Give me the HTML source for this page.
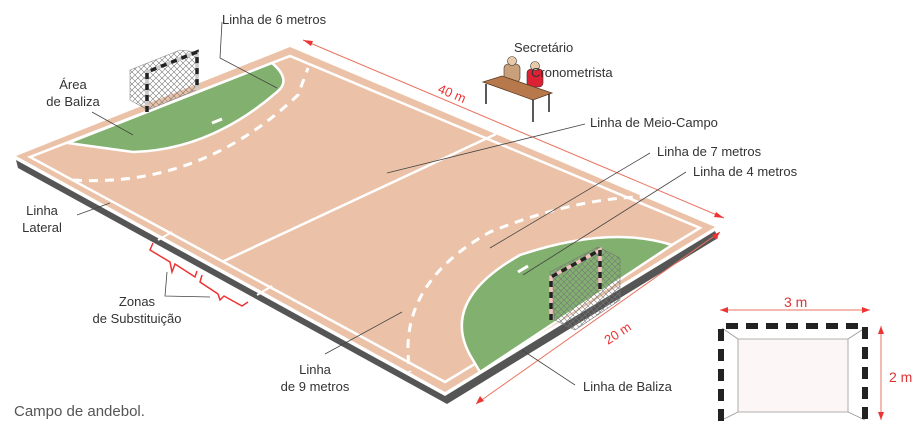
<!DOCTYPE html>
<html><head><meta charset="utf-8"><style>
body{margin:0;background:#fff;width:918px;height:426px;overflow:hidden}
svg{display:block}
text{font-family:"Liberation Sans",sans-serif;font-size:13px;fill:#333}
</style></head><body>
<svg width="918" height="426" viewBox="0 0 918 426" xmlns="http://www.w3.org/2000/svg">
<defs>
<pattern id="net" width="6" height="6" patternUnits="userSpaceOnUse"><path d="M0 0L6 6M6 0L0 6" stroke="#777" stroke-width="0.6"/></pattern>
</defs>
<!-- shadow -->
<polygon points="16,160 445,396 715,231 718,238 447,404 18,168" fill="#555"/>
<!-- court -->
<polygon points="16,156 290,47 715,227 445,392" fill="#ebc2a8"/>
<polygon points="30,157 290,56 700,228 445,382" fill="none" stroke="#fff" stroke-width="2.5"/>
<!-- green areas -->
<path d="M68,143 L272,63 Q292,80 277,92 Q210,150 133,152 Z" fill="#82b06e" stroke="#fff" stroke-width="2.5"/>
<path d="M480,372 L672,245 Q610,225 520,255 Q440,300 470,355 Z" fill="#82b06e" stroke="#fff" stroke-width="2.5"/>
<line x1="212" y1="123" x2="222" y2="119" stroke="#fff" stroke-width="3"/>
<line x1="518" y1="272" x2="528" y2="266" stroke="#fff" stroke-width="3"/>
<!-- center line -->
<line x1="496" y1="134" x2="222" y2="262" stroke="#fff" stroke-width="2.5"/>
<!-- dashed 9m -->
<path d="M73,180 Q200,188 298,95 L308,68" fill="none" stroke="#fff" stroke-width="3" stroke-dasharray="9,7"/>
<path d="M712,205 Q620,180 490,232 Q395,285 410,372" fill="none" stroke="#fff" stroke-width="3" stroke-dasharray="9,7"/>
<!-- substitution marks -->
<line x1="158" y1="240" x2="172" y2="232" stroke="#fff" stroke-width="2"/>
<line x1="257" y1="295" x2="272" y2="286" stroke="#fff" stroke-width="2"/>
<!-- red braces -->
<path d="M153,243 L150,250 L170,262 L172,272 L175,264 L195,277 L197,271" fill="none" stroke="#e33" stroke-width="1.5"/>
<path d="M202,275 L200,282 L218,294 L220,300 L224,296 L242,306 L248,302" fill="none" stroke="#e33" stroke-width="1.5"/>
<!-- top goal -->
<g>
<polygon points="130,70 180,50 196,52 196,90 148,110 130,100" fill="url(#net)" stroke="#888" stroke-width="0.6"/>
<polyline points="147,112 147,72 197,52 197,90" fill="none" stroke="#ccc" stroke-width="3.5"/>
<polyline points="147,112 147,72 197,52 197,90" fill="none" stroke="#222" stroke-width="3.5" stroke-dasharray="6,5"/>
</g>
<!-- bottom goal -->
<g>
<polygon points="550,272 598,247 620,258 620,300 575,330 555,320" fill="url(#net)" stroke="#777" stroke-width="0.6"/>
<polyline points="551,320 551,277 600,250 600,290" fill="none" stroke="#f4c0c0" stroke-width="3.5"/>
<polyline points="551,320 551,277 600,250 600,290" fill="none" stroke="#222" stroke-width="3.5" stroke-dasharray="6,5"/>
</g>
<!-- table -->
<g>
<rect x="504" y="64" width="16" height="18" rx="4" fill="#c9a07a" stroke="#333" stroke-width="0.6"/>
<circle cx="512" cy="61" r="4.5" fill="#e8c9a8" stroke="#333" stroke-width="0.6"/>
<rect x="527" y="69" width="16" height="18" rx="4" fill="#d23" stroke="#333" stroke-width="0.6"/>
<circle cx="535" cy="66" r="4.5" fill="#e8c9a8" stroke="#333" stroke-width="0.6"/>
<polygon points="483,82 502,76 552,93 533,100" fill="#b7794c" stroke="#5a3a22" stroke-width="0.8"/>
<line x1="486" y1="84" x2="486" y2="104" stroke="#222" stroke-width="1.5"/>
<line x1="533" y1="100" x2="533" y2="122" stroke="#222" stroke-width="1.5"/>
<line x1="549" y1="94" x2="549" y2="112" stroke="#222" stroke-width="1.5"/>
</g>
<!-- red dimension arrows -->
<line x1="303" y1="40" x2="724" y2="218" stroke="#e9735f" stroke-width="1"/>
<polygon points="303,40 313,41 311,46" fill="#e33"/>
<polygon points="724,218 714,217 716,212" fill="#e33"/>
<line x1="720" y1="232" x2="476" y2="404" stroke="#e9735f" stroke-width="1"/>
<polygon points="720,232 716,240 712,235" fill="#e33"/>
<polygon points="476,404 480,396 484,401" fill="#e33"/>
<text x="437" y="92" transform="rotate(23 437 92)" style="fill:#e33">40 m</text>
<text x="608" y="345" transform="rotate(-33 608 345)" style="fill:#e33">20 m</text>
<!-- leader lines -->
<g stroke="#444" stroke-width="0.8" fill="none">
<polyline points="222,22 220,58 277,88"/>
<line x1="92" y1="112" x2="133" y2="135"/>
<line x1="585" y1="124" x2="387" y2="173"/>
<line x1="650" y1="153" x2="490" y2="248"/>
<line x1="686" y1="172" x2="523" y2="275"/>
<line x1="77" y1="215" x2="110" y2="203"/>
<polyline points="167,272 165,296 210,297"/>
<line x1="325" y1="354" x2="402" y2="312"/>
<line x1="575" y1="385" x2="522" y2="350"/>
</g>
<!-- labels -->
<text x="222" y="24">Linha de 6 metros</text>
<text x="514" y="52">Secretário</text>
<text x="531" y="77">Cronometrista</text>
<text x="73" y="89" text-anchor="middle">Área</text>
<text x="73" y="106" text-anchor="middle">de Baliza</text>
<text x="590" y="127">Linha de Meio-Campo</text>
<text x="657" y="156">Linha de 7 metros</text>
<text x="693" y="176">Linha de 4 metros</text>
<text x="42" y="215" text-anchor="middle">Linha</text>
<text x="42" y="232" text-anchor="middle">Lateral</text>
<text x="137" y="306" text-anchor="middle">Zonas</text>
<text x="137" y="323" text-anchor="middle">de Substituição</text>
<text x="315" y="374" text-anchor="middle">Linha</text>
<text x="315" y="391" text-anchor="middle">de 9 metros</text>
<text x="583" y="391">Linha de Baliza</text>
<text x="14" y="416" style="font-size:15px;fill:#555">Campo de andebol.</text>
<!-- inset goal -->
<line x1="720" y1="310" x2="870" y2="310" stroke="#e9735f" stroke-width="1"/>
<polygon points="720,310 728,307 728,313" fill="#e33"/>
<polygon points="870,310 862,307 862,313" fill="#e33"/>
<text x="784" y="307" style="font-size:14px;fill:#d33">3 m</text>
<line x1="881" y1="326" x2="881" y2="420" stroke="#e9735f" stroke-width="1"/>
<polygon points="881,326 878,334 884,334" fill="#e33"/>
<polygon points="881,420 878,412 884,412" fill="#e33"/>
<text x="889" y="382" style="font-size:14px;fill:#d33">2 m</text>
<polygon points="738,339 848,339 848,412 738,412" fill="#fdf6f6" stroke="#999" stroke-width="0.8"/>
<g stroke="#999" stroke-width="0.8"><line x1="722" y1="328" x2="738" y2="339"/><line x1="865" y1="328" x2="848" y2="339"/><line x1="722" y1="420" x2="738" y2="412"/><line x1="865" y1="420" x2="848" y2="412"/></g>
<polyline points="721,421 721,326 865,326 865,421" fill="none" stroke="#222" stroke-width="6" stroke-dasharray="12,8"/>
</svg>
</body></html>
